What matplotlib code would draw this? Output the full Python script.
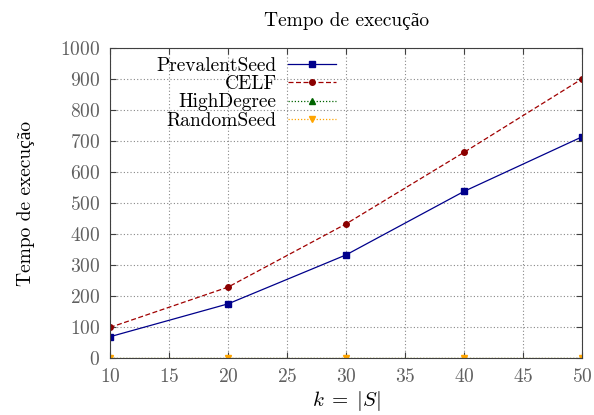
"""
Tempo de execução por tamanho da semente
"""

import numpy as np
import matplotlib
matplotlib.use('Agg')
import matplotlib.pyplot as plt

plt.rcParams['font.family'] = ['cmr10', 'Liberation Serif']
plt.rcParams['mathtext.fontset'] = 'cm'
plt.rcParams['axes.unicode_minus'] = False
plt.rcParams['axes.formatter.use_mathtext'] = True

# dados
k = [10, 20, 30, 40, 50]
prevalent = [69, 175, 333, 538, 714]
celf = [99, 229, 433, 664, 901]
highdegree = [0.5, 0.5, 0.5, 0.5, 0.5]
randomseed = [0.3, 0.3, 0.3, 0.3, 0.3]
yticks = [0, 100, 200, 300, 400, 500, 600, 700, 800, 900, 1000]
xticks = [10, 15, 20, 25, 30, 35, 40, 45, 50]

fig = plt.figure(figsize=(5.94, 4.15), dpi=100)
ax = fig.add_axes([0.185, 0.137, 0.795, 0.747])

ax.plot(k, prevalent, color='#00008b', lw=0.9, marker='s', ms=5, label='PrevalentSeed')
ax.plot(k, celf, color='#a00000', lw=0.9, ls=(0, (4, 2)), marker='o', ms=4,
        mfc='#8b0000', mec='#8b0000', label='CELF')
ax.plot(k, highdegree, color='#006400', lw=0.9, ls=(0, (1, 1.5)), marker='^', ms=4, label='HighDegree')
ax.plot(k, randomseed, color='#ffa500', lw=0.9, ls=(0, (1, 1.5)), marker='v', ms=4, label='RandomSeed')

ax.set_xlim(10, 50)
ax.set_ylim(0, 1000)
ax.set_xticks(xticks)
ax.set_yticks(yticks)
ax.grid(True, ls=(0, (1, 2)), color='#888888', lw=0.8)
ax.tick_params(direction='in', top=True, right=True, labelsize=14,
               labelcolor='#606060', color='#404040', length=4, pad=7)
for s in ax.spines.values():
    s.set_color('#404040')
    s.set_linewidth(0.8)

ax.set_title('Tempo de execução', fontsize=14, pad=16)
ax.set_xlabel(r'$k\;=\;|S|$', fontsize=15, labelpad=2)
ax.set_ylabel('Tempo de execução', fontsize=14, labelpad=18)

leg = ax.legend(loc='upper left', frameon=False, markerfirst=False, fontsize=14,
                handlelength=2.45, handletextpad=0.6, labelspacing=0.02,
                borderaxespad=0.0, bbox_to_anchor=(0.082, 0.997))

plt.savefig('out.png', dpi=100)
